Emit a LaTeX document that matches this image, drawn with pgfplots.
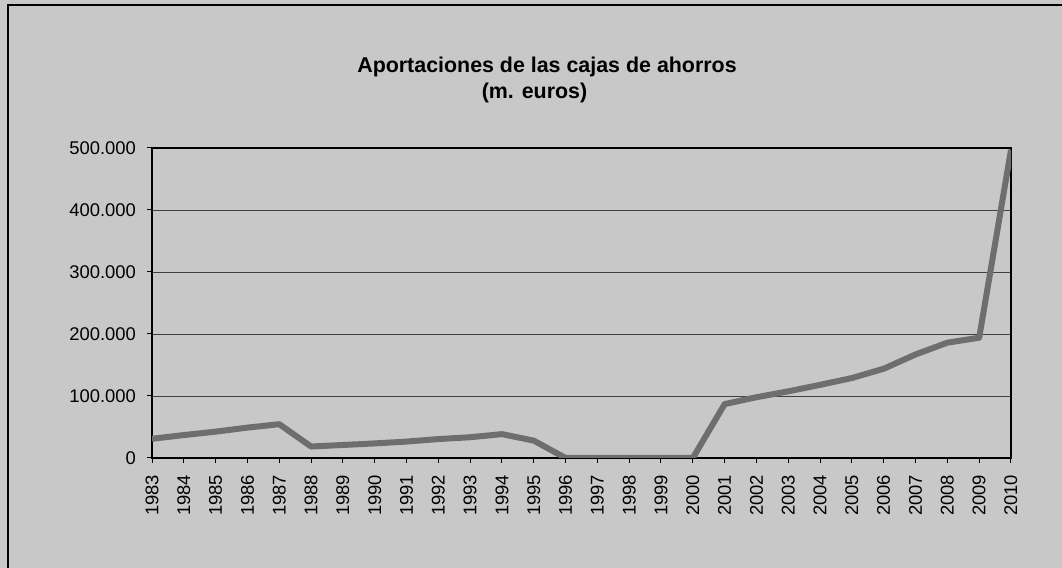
\documentclass[border=0pt]{standalone}
\usepackage{fontspec}
\setmainfont{Liberation Sans}
\usepackage{pgfplots}
\pgfplotsset{compat=1.18}
\definecolor{bg}{RGB}{200,200,200}
\definecolor{ln}{RGB}{110,110,110}

\begin{document}
\begin{tikzpicture}
\path[use as bounding box] (0,0) rectangle (531pt,284pt);
\fill[bg] (0,0) rectangle (531pt,284pt);
\draw[black, line width=0.6pt] (4pt,0) -- (4pt,281.5pt) -- (531pt,281.5pt);
\node[anchor=base, font=\fontsize{10.7}{12}\selectfont\bfseries] at (273.5pt,247.5pt) {Aportaciones de las cajas de ahorros};
\node[anchor=base, font=\fontsize{10.7}{12}\selectfont\bfseries] at (267.25pt,234.5pt) {(m. euros)};
\begin{axis}[
  at={(76pt,55pt)}, anchor=south west,
  scale only axis, width=429.5pt, height=155pt,
  xmin=1983, xmax=2010, ymin=0, ymax=500000,
  xtick={1983,...,2010},
  ytick={0,100000,200000,300000,400000,500000},
  yticklabels={0,100.000,200.000,300.000,400.000,500.000},
  scaled y ticks=false,
  /pgf/number format/.cd, 1000 sep={}, assume math mode=true, /pgfplots/.cd,
  tick pos=left, tick align=outside,
  major tick length=2.5pt,
  tick style={black, line width=0.5pt},
  axis line style={black, line width=0.8pt},
  ymajorgrids, grid style={black!75, line width=0.4pt},
  ticklabel style={font=\fontsize{9.2}{10}\selectfont},
  xticklabel style={rotate=90, anchor=east},
  xticklabel shift=2.5pt,
  yticklabel shift=2pt,
]
\addplot[ln, line width=3pt, line join=round] coordinates {
(1983,31000) (1984,37000) (1985,42500) (1986,49000) (1987,54500)
(1988,18500) (1989,21000) (1990,23500) (1991,26500) (1992,30500)
(1993,33500) (1994,38500) (1995,28000) (1996,0) (1997,0)
(1998,0) (1999,0) (2000,0) (2001,87000) (2002,98000)
(2003,107500) (2004,118000) (2005,129000) (2006,144000) (2007,167000)
(2008,186000) (2009,194000) (2010,497000)
};
\end{axis}
\end{tikzpicture}
\end{document}
